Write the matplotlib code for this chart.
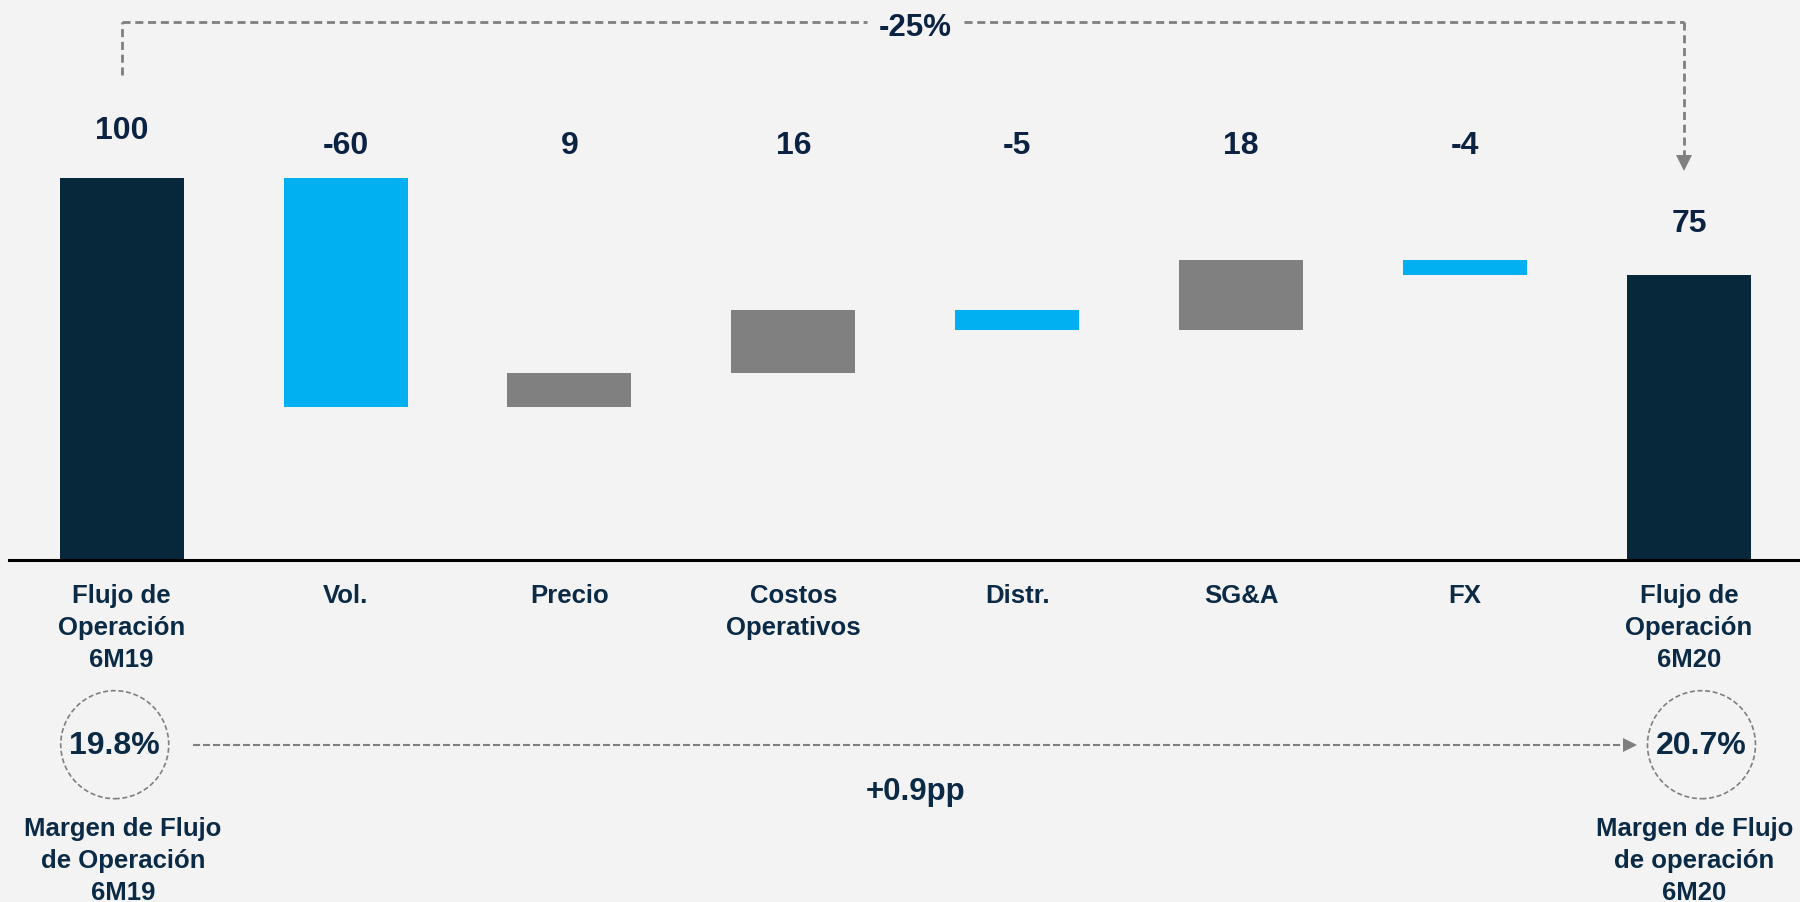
import matplotlib
matplotlib.use('Agg')
import matplotlib.pyplot as plt
from matplotlib.patches import Ellipse

# ---------------- data ----------------
categories = ["Flujo de\nOperación\n6M19", "Vol.", "Precio", "Costos\nOperativos",
              "Distr.", "SG&A", "FX", "Flujo de\nOperación\n6M20"]
start_value = 100
deltas = [-59.8, 8.7, 16.5, -5.1, 18.3, -3.9]
value_labels = ["100", "-60", "9", "16", "-5", "18", "-4", "75"]
change_label = "-25%"
margin_start = "19.8%"
margin_end = "20.7%"
margin_change = "+0.9pp"
margin_captions = ["Margen de Flujo\nde Operación\n6M19",
                   "Margen de Flujo\nde operación\n6M20"]

# ---------------- style ----------------
BG = '#f3f3f3'
NAVY = '#07283a'
CYAN = '#00b0f0'
GRAY = '#808080'
DASH = '#7f7f7f'
TXT = '#0b2a45'
NUM = '#0c2243'
plt.rcParams['font.family'] = ['Liberation Sans', 'DejaVu Sans']
plt.rcParams['font.weight'] = 'bold'

fig = plt.figure(figsize=(18, 9.03), dpi=100, facecolor=BG)
ax = fig.add_axes([0, 0, 1, 1])
ax.set_facecolor(BG)
ax.set_xlim(-0.5435, 7.496)
ax.set_ylim(-89.35, 146.85)
ax.axis('off')

n = len(categories)
bw = 0.554

# bars
end_value = start_value + sum(deltas)
ax.bar(0, start_value, width=bw, color=NAVY, zorder=3)
level = start_value
for i, d in enumerate(deltas, start=1):
    bottom = min(level, level + d)
    ax.bar(i, abs(d), bottom=bottom, width=bw,
           color=CYAN if d < 0 else GRAY, zorder=3)
    level += d
ax.bar(n - 1, end_value, width=bw, color=NAVY, zorder=3)

# axis line
ax.plot([-0.503, 7.6], [0, 0], color='black', lw=2.2, zorder=4, clip_on=False)

# value labels
ax.text(0, start_value + 12.6, value_labels[0], ha='center', va='center',
        fontsize=23, color=NUM, fontweight='bold')
for i in range(1, n - 1):
    ax.text(i, 108.6, value_labels[i], ha='center', va='center',
            fontsize=23, color=NUM, fontweight='bold')
ax.text(n - 1, end_value + 13.6, value_labels[-1], ha='center', va='center',
        fontsize=23, color=NUM, fontweight='bold')

# category labels
for i, c in enumerate(categories):
    ax.text(i, -5.9, c, ha='center', va='top', fontsize=18.5, color=TXT,
            fontweight='bold', linespacing=1.43)

# top bracket
ytop = 140.9
dkw = dict(color=DASH, lw=2, dashes=(2.9, 1.7), zorder=2)
ax.plot([0, 0], [127, ytop], **dkw)
ax.plot([0, 3.33], [ytop, ytop], **dkw)
ax.plot([3.76, n - 1 - 0.02], [ytop, ytop], **dkw)
ax.plot([n - 1 - 0.02, n - 1 - 0.02], [ytop, 105.5], **dkw)
ax.plot([n - 1 - 0.02], [104.0], marker='v', markersize=11, color=DASH,
        markeredgewidth=0, zorder=2)
ax.text(3.545, 139.4, change_label, ha='center', va='center', fontsize=22.5,
        color=NUM, fontweight='bold')

# margin circles
yc = -48.2
rx = 54 / 223.9
ry = 54 / 3.823
for xc, lab in [(-0.031, margin_start), (7.056, margin_end)]:
    e = Ellipse((xc, yc), 2 * rx, 2 * ry, fill=False, edgecolor=DASH, lw=1.2,
                linestyle=(0, (3, 1.6)), zorder=2)
    ax.add_patch(e)
    ax.text(xc, yc, lab, ha='center', va='center', fontsize=23, color=TXT,
            fontweight='bold')

# margin arrow
ax.plot([0.3175, 6.72], [yc, yc], color=DASH, lw=1.5, dashes=(3.4, 1.4), zorder=2)
ax.plot([6.735], [yc], marker='>', markersize=10, color=DASH,
        markeredgewidth=0, zorder=2)
ax.text(3.545, -60.4, margin_change, ha='center', va='center', fontsize=22.5,
        color=TXT, fontweight='bold')

# margin captions
for xc, cap in [(0.005, margin_captions[0]), (7.025, margin_captions[1])]:
    ax.text(xc, -66.8, cap, ha='center', va='top', fontsize=18.5, color=TXT,
            fontweight='bold', linespacing=1.43)

fig.savefig('out.png', dpi=100, facecolor=BG)
